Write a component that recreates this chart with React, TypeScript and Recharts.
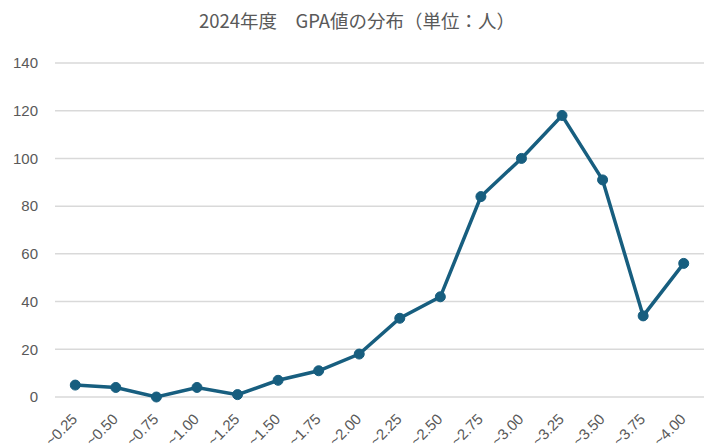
import { CartesianGrid, Line, LineChart, XAxis, YAxis } from "recharts";

const categories = [
  "~0.25", "~0.50", "~0.75", "~1.00", "~1.25", "~1.50", "~1.75", "~2.00",
  "~2.25", "~2.50", "~2.75", "~3.00", "~3.25", "~3.50", "~3.75", "~4.00",
];
const students = [5, 4, 0, 4, 1, 7, 11, 18, 33, 42, 84, 100, 118, 91, 34, 56];
const yTicks = [0, 20, 40, 60, 80, 100, 120, 140];

const data = categories.map((range, i) => ({ range, count: students[i] }));

const FONT = "'Liberation Sans', Arial, sans-serif";

function RotatedTick({ x, y, payload }: any) {
  return (
    <g transform={`translate(${x},${y})`}>
      <text
        x={3}
        y={15}
        transform="rotate(-45 3 15)"
        textAnchor="end"
        fill="#595959"
        fontSize={15}
        fontFamily={FONT}
      >
        {payload.value}
      </text>
    </g>
  );
}

export default function App() {
  return (
    <div style={{ position: "absolute", left: 0, top: 0, width: 704, height: 447, background: "#fff" }}>
      <div
        style={{
          position: "absolute",
          top: 6,
          width: 714,
          textAlign: "center",
          fontFamily: "'Noto Sans CJK JP', sans-serif",
          fontSize: 18.5,
          lineHeight: "28px",
          color: "#595959",
          whiteSpace: "pre",
        }}
      >
        {"2024年度　GPA値の分布（単位：人）"}
      </div>
      <LineChart
        width={704}
        height={447}
        data={data}
        margin={{ top: 63, right: 0, bottom: 0, left: 0 }}
      >
        <CartesianGrid vertical={false} stroke="#d9d9d9" strokeWidth={1.5} />
        <XAxis
          dataKey="range"
          scale="band"
          axisLine={false}
          tickLine={false}
          interval={0}
          height={50}
          tick={<RotatedTick />}
        />
        <YAxis
          domain={[0, 140]}
          ticks={yTicks}
          axisLine={false}
          tickLine={false}
          tickSize={0}
          tickMargin={17}
          width={55}
          tick={{ fill: "#595959", fontSize: 15, fontFamily: FONT }}
        />
        <Line
          dataKey="count"
          stroke="#175e7f"
          strokeWidth={3.5}
          dot={{ r: 5, fill: "#175e7f", stroke: "#175e7f", strokeWidth: 1 }}
          isAnimationActive={false}
        />
      </LineChart>
    </div>
  );
}
